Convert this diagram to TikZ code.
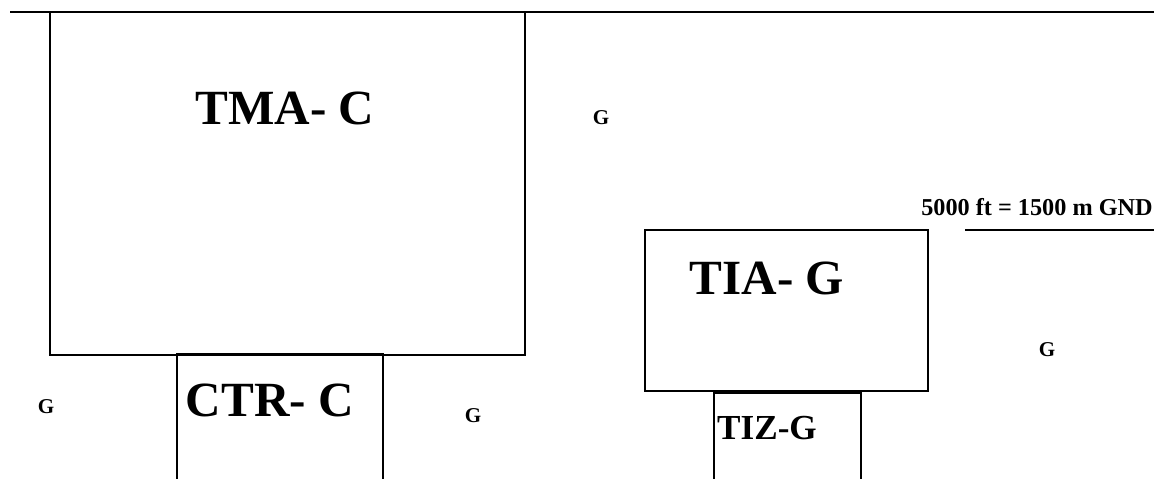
\documentclass[tikz,border=0pt]{standalone}
\usepackage{fontspec}
\setmainfont{Liberation Serif}

\begin{document}
\begin{tikzpicture}
  [x=0.02cm, y=-0.02cm, line width=0.8pt,
   zone/.style={inner sep=0pt, font=\fontsize{28}{30}\selectfont\bfseries},
   small zone/.style={inner sep=0pt, font=\fontsize{20}{22}\selectfont\bfseries},
   gclass/.style={inner sep=0pt, font=\fontsize{12}{14}\selectfont\bfseries},
   limit/.style={inner sep=0pt, font=\fontsize{13.8}{15}\selectfont\bfseries}]
  \useasboundingbox (0,0) rectangle (1154,479);

  \draw (10,12) -- (1154,12);
  \draw (50,12) rectangle (525,355);
  \draw [line width=1.6pt] (50,12) -- (525,12);
  \draw (177,479) -- (177,354) -- (383,354) -- (383,479);
  \draw (645,230) rectangle (928,391);
  \draw (714,479) -- (714,393) -- (861,393) -- (861,479);
  \draw (965,230) -- (1154,230);

  \node [name=tma, zone] at (285,108) {TMA- C};
  \node [name=ctr, zone] at (270,400) {CTR- C};
  \node [name=tia, zone] at (767,278) {TIA- G};
  \node [name=tiz, small zone] at (767,428) {TIZ-G};
  \node [name=gnd, limit] at (1037,207) {5000 ft = 1500 m GND};

  \node [name=g1, gclass] at (601,118) {G};
  \node [name=g2, gclass] at (46,407) {G};
  \node [name=g3, gclass] at (473,416) {G};
  \node [name=g4, gclass] at (1047,350) {G};
\end{tikzpicture}
\end{document}
